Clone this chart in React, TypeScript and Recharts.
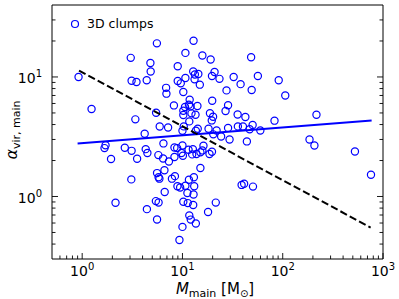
import React from 'react';
import { ScatterChart, Scatter, XAxis, YAxis, Legend } from 'recharts';

// clump masses (M_sun) and virial parameters
const clumpMass = [
  0.92, 1.24, 3.05, 3.11, 3.48, 4.4, 4.79, 4.82, 3.39, 4.2,
  1.71, 1.67, 2.66, 3.11, 4.3, 4.47, 1.94, 3.53, 3.09, 2.15,
  4.42, 12.9, 5.56, 10.7, 15.8, 19.1, 8.97, 12.8, 20.9, 14.4,
  13.3, 19.7, 10.7, 23.4, 13.2, 8.97, 9.62, 14.9, 6.87, 27.5,
  10.2, 6.92, 11.8, 19.8, 8.22, 11.6, 10.6, 12.0, 14.1, 28.5,
  5.46, 10.2, 12.3, 13.5, 18.8, 20.2, 19.6, 26.9, 11.7, 5.93,
  7.19, 10.3, 10.0, 14.2, 13.6, 18.2, 21.9, 28.5, 24.3, 20.3,
  29.5, 6.46, 8.32, 8.85, 10.0, 16.2, 11.5, 12.7, 15.8, 19.7,
  9.77, 12.5, 13.8, 15.1, 18.6, 5.75, 8.32, 10.1, 6.41, 7.33,
  15.1, 6.61, 5.58, 5.78, 5.89, 8.41, 7.85, 11.6, 13.0, 10.7,
  13.1, 8.91, 9.48, 6.65, 11.2, 12.9, 5.43, 5.78, 10.2, 11.3,
  12.8, 21.5, 18.0, 11.7, 12.1, 13.6, 5.58, 10.0, 9.33, 48.4,
  32.4, 56.5, 91.2, 38.0, 49.0, 106, 35.5, 42.4, 82.8, 35.7,
  40.1, 50.1, 46.8, 59.8, 43.9, 38.9, 41.2, 50.5, 217, 185,
  207, 525, 759, 10.2,
];
const clumpAlpha = [
  10.0, 5.4, 14.45, 9.31, 9.08, 9.4, 13.1, 11.1, 4.42, 3.35,
  2.68, 2.54, 2.56, 2.41, 2.49, 2.31, 2.06, 2.07, 1.39, 0.886,
  0.784, 20.1, 19.1, 15.9, 15.1, 14.0, 12.3, 11.1, 11.0, 10.6,
  10.5, 10.2, 9.81, 9.64, 9.55, 9.26, 8.84, 8.62, 8.11, 7.72,
  7.49, 7.25, 6.45, 6.33, 5.78, 5.86, 5.61, 5.67, 5.71, 5.8,
  5.02, 5.22, 4.96, 4.83, 4.98, 4.65, 4.33, 5.19, 4.25, 3.85,
  3.78, 3.86, 3.55, 3.69, 3.55, 3.69, 3.57, 3.75, 3.18, 3.31,
  3.0, 2.78, 2.57, 2.54, 2.67, 2.66, 2.46, 2.49, 2.43, 2.37,
  2.31, 2.25, 2.27, 2.34, 2.27, 2.22, 2.14, 2.19, 2.08, 1.96,
  1.73, 1.66, 1.57, 1.45, 1.41, 1.48, 1.41, 1.38, 1.45, 1.23,
  1.22, 1.22, 1.19, 1.09, 1.07, 1.04, 0.915, 0.891, 0.903, 0.881,
  0.849, 0.889, 0.742, 0.693, 0.641, 0.594, 0.642, 0.557, 0.432, 14.6,
  10.0, 10.2, 9.4, 8.71, 7.78, 7.0, 4.85, 4.62, 4.31, 3.86,
  3.85, 3.97, 3.65, 3.57, 2.89, 1.25, 1.28, 1.21, 4.83, 3.0,
  2.67, 2.38, 1.52, 4.81,
];

// power-law fit (solid blue) and reference relation (dashed black)
const fitMass = [0.9, 770];
const fitAlpha = [2.78, 4.33];
const refMass = [0.93, 753];
const refAlpha = [11.3, 0.55];

const xTicks = [
  0.6, 0.7, 0.8, 0.9, 1, 2, 3, 4, 5, 6, 7, 8, 9, 10, 20, 30, 40, 50, 60, 70, 80, 90,
  100, 200, 300, 400, 500, 600, 700, 800, 900, 1000,
];
const yTicks = [
  0.4, 0.5, 0.6, 0.7, 0.8, 0.9, 1, 2, 3, 4, 5, 6, 7, 8, 9, 10, 20, 30,
];

const clumps = clumpMass.map((m, i) => ({ m, a: clumpAlpha[i] }));
const fitLine = fitMass.map((m, i) => ({ m, a: fitAlpha[i] }));
const refLine = refMass.map((m, i) => ({ m, a: refAlpha[i] }));

const FONT = '"DejaVu Sans", sans-serif';
const BLUE = '#0000ff';

const isMajor = (v: number) => Math.abs(Math.log10(v) - Math.round(Math.log10(v))) < 1e-6;
const expOf = (v: number) => Math.round(Math.log10(v));

const tickLen = (v: number) => (isMajor(v) ? 6 : 3.5);

const BottomTick = (props: any) => {
  const { x, y, payload } = props;
  const v = payload.value;
  return (
    <g>
      <line x1={x} y1={y} x2={x} y2={y - tickLen(v)} stroke="#000" strokeWidth={0.9} />
      {isMajor(v) && (
        <text x={x} y={y + 16.7} textAnchor="middle" fontSize={14} fontFamily={FONT} fill="#000">
          10<tspan dy={-6} fontSize={10}>{expOf(v)}</tspan>
        </text>
      )}
    </g>
  );
};

const TopTick = (props: any) => {
  const { x, y, payload } = props;
  return <line x1={x} y1={y} x2={x} y2={y + tickLen(payload.value)} stroke="#000" strokeWidth={0.9} />;
};

const LeftTick = (props: any) => {
  const { x, y, payload } = props;
  const v = payload.value;
  return (
    <g>
      <line x1={x} y1={y} x2={x + tickLen(v)} y2={y} stroke="#000" strokeWidth={0.9} />
      {isMajor(v) && (
        <text x={x - 10} y={y + 6.5} textAnchor="end" fontSize={14} fontFamily={FONT} fill="#000">
          10<tspan dy={-6} fontSize={10}>{expOf(v)}</tspan>
        </text>
      )}
    </g>
  );
};

const RightTick = (props: any) => {
  const { x, y, payload } = props;
  return <line x1={x} y1={y} x2={x - tickLen(payload.value)} y2={y} stroke="#000" strokeWidth={0.9} />;
};

const XTitle = () => (
  <text x={215} y={294} textAnchor="middle" fontFamily={FONT} fontSize={15} fill="#000">
    <tspan fontStyle="italic">M</tspan>
    <tspan fontSize={11} dy={3}>main</tspan>
    <tspan dy={-3}> [M</tspan>
    <tspan fontSize={10} dy={3}>⊙</tspan>
    <tspan dy={-3}>]</tspan>
  </text>
);

const YTitle = () => (
  <text
    x={17}
    y={130}
    transform="rotate(-90 17 130)"
    textAnchor="middle"
    fontFamily={FONT}
    fontSize={16}
    fill="#000"
  >
    <tspan fontStyle="italic">α</tspan>
    <tspan fontSize={11} dy={3}>vir, main</tspan>
  </text>
);

const LegendBox = () => (
  <div style={{ display: 'flex', alignItems: 'center', fontFamily: FONT, fontSize: 12.5, color: '#000' }}>
    <svg width={10} height={10} style={{ marginRight: 7 }}>
      <circle cx={5} cy={5} r={3.5} fill="none" stroke={BLUE} strokeWidth={1.2} />
    </svg>
    <span>3D clumps</span>
  </div>
);

const Ring = (props: any) => (
  <circle cx={props.cx} cy={props.cy} r={3.6} fill="none" stroke={BLUE} strokeWidth={1.2} />
);

const NoDot = () => <g />;

export default function App() {
  return (
    <div style={{ position: 'absolute', left: 0, top: 0, width: 399, height: 299, background: '#fff' }}>
      <ScatterChart width={399} height={299} margin={{ top: 0, right: 0, bottom: 0, left: 0 }}>
        <XAxis
          dataKey="m"
          type="number"
          scale="log"
          domain={[0.5, 1000]}
          allowDataOverflow
          ticks={xTicks}
          interval={0}
          height={40}
          tickSize={0}
          tickMargin={0}
          tickLine={false}
          tick={<BottomTick />}
          axisLine={{ stroke: '#000', strokeWidth: 1 }}
          label={<XTitle />}
        />
        <XAxis
          xAxisId="top"
          orientation="top"
          type="number"
          scale="log"
          domain={[0.5, 1000]}
          allowDataOverflow
          ticks={xTicks}
          interval={0}
          height={5}
          tickSize={0}
          tickMargin={0}
          tickLine={false}
          tick={<TopTick />}
          axisLine={{ stroke: '#000', strokeWidth: 1 }}
        />
        <YAxis
          dataKey="a"
          type="number"
          scale="log"
          domain={[0.3, 40]}
          allowDataOverflow
          ticks={yTicks}
          interval={0}
          width={52}
          tickSize={0}
          tickMargin={0}
          tickLine={false}
          tick={<LeftTick />}
          axisLine={{ stroke: '#000', strokeWidth: 1 }}
          label={<YTitle />}
        />
        <YAxis
          yAxisId="right"
          orientation="right"
          type="number"
          scale="log"
          domain={[0.3, 40]}
          allowDataOverflow
          ticks={yTicks}
          interval={0}
          width={16}
          tickSize={0}
          tickMargin={0}
          tickLine={false}
          tick={<RightTick />}
          axisLine={{ stroke: '#000', strokeWidth: 1 }}
        />
        <Legend
          layout="horizontal"
          verticalAlign="middle"
          align="center"
          content={<LegendBox />}
          wrapperStyle={{ left: 70, top: 16, width: 'auto' }}
        />
        <Scatter data={clumps} shape={<Ring />} isAnimationActive={false} />
        <Scatter
          data={fitLine}
          line={{ stroke: BLUE, strokeWidth: 2 }}
          shape={<NoDot />}
          isAnimationActive={false}
        />
        <Scatter
          data={refLine}
          line={{ stroke: '#000', strokeWidth: 2, strokeDasharray: '7.4 3.2' }}
          shape={<NoDot />}
          isAnimationActive={false}
        />
      </ScatterChart>
    </div>
  );
}
